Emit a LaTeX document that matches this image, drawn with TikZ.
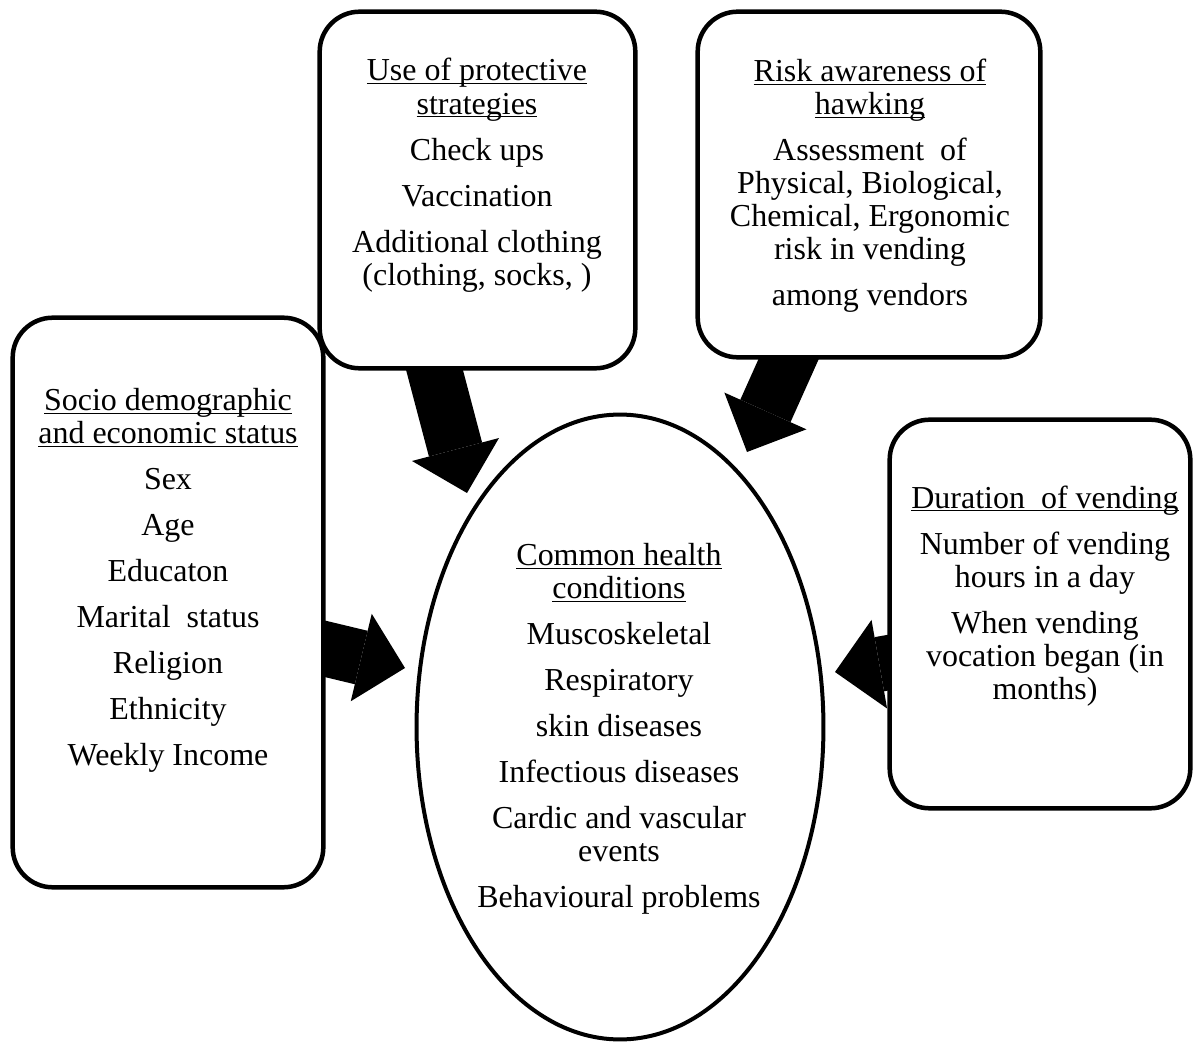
\documentclass[tikz,border=0pt]{standalone}
\usepackage{fontspec}
\setmainfont{Liberation Serif}
\usetikzlibrary{shapes.geometric,arrows.meta,calc,backgrounds}
\newcommand{\ulhead}[1]{\underline{\smash{#1}}}
\tikzset{
  boxfill/.style={fill=white,inner sep=0pt},
  boxline/.style={line width=0.09cm,rounded corners=0.8cm},
  txt/.style={align=center,font=\fontsize{18.2}{18.8}\selectfont,inner sep=0pt},
  bigarrow/.style={line width=1.1cm,-{Triangle[length=0.9cm,width=1.8cm,line width=0pt 0 0]}}
}
\begin{document}
\begin{tikzpicture}[x=0.02cm,y=-0.02cm]
\useasboundingbox (0,0) rectangle (1194,1044);
% box areas
\node[boxfill,minimum width=6.2cm,minimum height=11.38cm] (socio) at (168,602.5) {};
\node[boxfill,minimum width=6.3cm,minimum height=7.12cm] (protect) at (477.5,190) {};
\node[boxfill,minimum width=6.84cm,minimum height=6.9cm] (risk) at (869,184.5) {};
\node[boxfill,minimum width=6cm,minimum height=7.76cm] (duration) at (1040,614) {};
\node[ellipse,draw,fill=white,line width=0.08cm,minimum width=8.14cm,minimum height=12.5cm] (health) at (620,727) {};
% arrow tips
\coordinate (tipL) at (405,668);
\coordinate (tipP) at (467,493);
\coordinate (tipR) at (747,452);
\coordinate (tipD) at (835,672);
\begin{pgfonlayer}{background}
\draw[bigarrow] ($(socio.center)+(91,30.5)$) -- (tipL);
\draw[bigarrow] ($(protect.center)+(-61.5,110)$) -- (tipP);
\draw[bigarrow] ($(risk.center)+(-40,84.5)$) -- (tipR);
\draw[bigarrow] ($(duration.center)+(-57,32)$) -- (tipD);
\end{pgfonlayer}
% box outlines
\draw[boxline] (socio.south west) rectangle (socio.north east);
\draw[boxline] (protect.south west) rectangle (protect.north east);
\draw[boxline] (risk.south west) rectangle (risk.north east);
\draw[boxline] (duration.south west) rectangle (duration.north east);
% texts
\node[txt] (healthtxt) at (619,740)
  {\ulhead{Common health}\\ \ulhead{conditions}\\[0.26cm]
   Muscoskeletal\\[0.26cm] Respiratory\\[0.26cm] skin diseases\\[0.26cm]
   Infectious diseases\\[0.26cm] Cardic and vascular\\ events\\[0.26cm]
   Behavioural problems};
\node[txt] (sociotxt) at (168,591.5)
  {\ulhead{Socio demographic}\\ \ulhead{and economic status}\\[0.26cm]
   Sex\\[0.26cm] Age\\[0.26cm] Educaton\\[0.26cm] Marital\ \ status\\[0.26cm]
   Religion\\[0.26cm] Ethnicity\\[0.26cm] Weekly Income};
\node[txt] (protecttxt) at (477,186.5)
  {\ulhead{Use of protective}\\ \ulhead{strategies}\\[0.26cm]
   Check ups\\[0.26cm] Vaccination\\[0.26cm]
   Additional clothing\\ (clothing,\ socks, )};
\node[txt] (risktxt) at (870,197)
  {\ulhead{Risk awareness of}\\ \ulhead{hawking}\\[0.26cm]
   Assessment\ \ of\\ Physical, Biological,\\ Chemical, Ergonomic\\ risk in vending\\[0.26cm]
   among vendors};
\node[txt] (durationtxt) at (1045,607)
  {\ulhead{Duration\ \ of vending}\\[0.26cm]
   Number of vending\\ hours in a day\\[0.26cm]
   When vending\\ vocation began (in\\ months)};
\end{tikzpicture}
\end{document}
